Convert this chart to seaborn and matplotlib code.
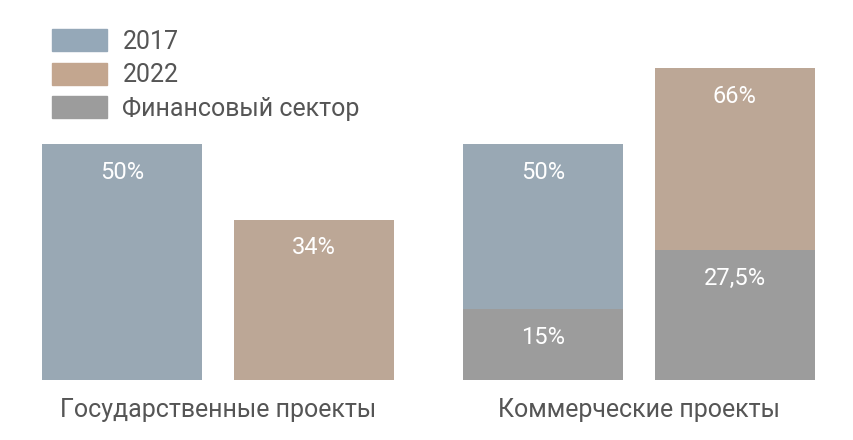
import pandas as pd
import numpy as np
import matplotlib.pyplot as plt
import seaborn as sns
from matplotlib.patches import Patch

plt.rcParams['font.family'] = 'Roboto'

groups = ['Государственные проекты', 'Коммерческие проекты']
years = ['2017', '2022']
total = [50, 34, 50, 66]          # gov 2017, gov 2022, comm 2017, comm 2022
finance = [np.nan, np.nan, 15, 27.5]
total_lbl = ['50%', '34%', '50%', '66%']
fin_lbl = ['', '', '15%', '27,5%']

c17, c22, cfin = '#95a8b8', '#c3a68f', '#9c9c9c'
df = pd.DataFrame({'group': [g for g in groups for _ in years],
                   'year': years * 2, 'total': total, 'fin': finance})

fig = plt.figure(figsize=(8.54, 4.4), dpi=100)
ax = fig.add_axes([0, 0, 1, 1])
sns.barplot(data=df, x='group', y='total', hue='year', order=groups, hue_order=years,
            palette=[c17, c22], width=0.912, gap=0.167, legend=False, ax=ax)
n1 = len(ax.patches)
sns.barplot(data=df, x='group', y='fin', hue='year', order=groups, hue_order=years,
            palette=[cfin, cfin], width=0.912, gap=0.167, legend=False, ax=ax)

bars = sorted(ax.patches[:n1], key=lambda p: p.get_x())
for p, lbl in zip(bars, total_lbl):
    ax.text(p.get_x() + p.get_width() / 2, p.get_height() - 6, lbl, color='white',
            ha='center', va='center', fontsize=17)
fbars = sorted([p for p in ax.patches[n1:] if not np.isnan(p.get_height())], key=lambda p: p.get_x())
for p, lbl in zip(fbars, [l for l in fin_lbl if l]):
    ax.text(p.get_x() + p.get_width() / 2, p.get_height() - 6, lbl, color='white',
            ha='center', va='center', fontsize=17)

for i, g in enumerate(groups):
    ax.text(i, -6.4, g, ha='center', va='center', fontsize=18, color='#555555')

ax.set_xlim(-0.518, 1.511)
ax.set_ylim(-12.7, 80.5)
ax.axis('off')

handles = [Patch(color=c17), Patch(color=c22), Patch(color=cfin)]
ax.legend(handles, ['2017', '2022', 'Финансовый сектор'], loc='upper left',
          bbox_to_anchor=(0.035, 0.985), frameon=False, fontsize=18,
          handlelength=2.2, handleheight=1.0, handletextpad=0.6, labelspacing=0.35,
          labelcolor='#555555')

fig.savefig('out.png', dpi=100)
